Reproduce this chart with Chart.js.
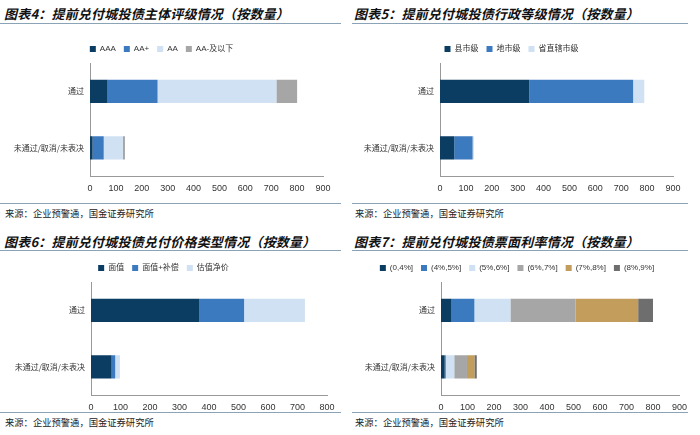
<!DOCTYPE html>
<html><head><meta charset="utf-8">
<script src="https://cdn.jsdelivr.net/npm/chart.js@4.4.0/dist/chart.umd.min.js"></script>
<style>
html,body{margin:0;padding:0;background:#fff;width:700px;height:435px;overflow:hidden;position:relative;font-family:"Noto Sans CJK SC",sans-serif;}
.title{position:absolute;font-family:"Noto Sans CJK SC";font-weight:bold;font-style:italic;font-size:13px;color:#111;white-space:nowrap;letter-spacing:0.2px;}
.hline{position:absolute;height:1px;background:#8ba3b6;}
.src{position:absolute;font-size:9.3px;color:#222;white-space:nowrap;font-family:"Noto Sans CJK SC";}
canvas{position:absolute;}
</style></head><body>
<div class="title" style="left:4px;top:4px">图表4：提前兑付城投债主体评级情况（按数量）</div>
<div class="hline" style="left:0;top:23px;width:341px"></div>
<div class="hline" style="left:0;top:203px;width:341px"></div>
<div class="src" style="left:5px;top:206px">来源：企业预警通，国金证券研究所</div>

<div class="title" style="left:354px;top:4px">图表5：提前兑付城投债行政等级情况（按数量）</div>
<div class="hline" style="left:352px;top:23px;width:336px"></div>
<div class="hline" style="left:352px;top:203px;width:336px"></div>
<div class="src" style="left:355px;top:206px">来源：企业预警通，国金证券研究所</div>

<div class="title" style="left:4px;top:232px">图表6：提前兑付城投债兑付价格类型情况（按数量）</div>
<div class="hline" style="left:0;top:250px;width:341px"></div>
<div class="hline" style="left:0;top:412px;width:341px"></div>
<div class="src" style="left:5px;top:415px">来源：企业预警通，国金证券研究所</div>

<div class="title" style="left:354px;top:232px">图表7：提前兑付城投债票面利率情况（按数量）</div>
<div class="hline" style="left:352px;top:250px;width:336px"></div>
<div class="hline" style="left:352px;top:412px;width:336px"></div>
<div class="src" style="left:355px;top:415px">来源：企业预警通，国金证券研究所</div>

<canvas id="c1" width="340" height="160" style="left:0;top:37px"></canvas>
<canvas id="c2" width="340" height="160" style="left:350px;top:37px"></canvas>
<canvas id="c3" width="340" height="160" style="left:0;top:256px"></canvas>
<canvas id="c4" width="340" height="160" style="left:350px;top:256px"></canvas>
<script>
const categories = ["通过", "未通过/取消/未表决"];

// 图表4 主体评级
const ratingLabels = ["AAA", "AA+", "AA", "AA-及以下"];
const ratingAAA = [68, 10];
const ratingAAplus = [193, 43];
const ratingAA = [459, 74];
const ratingAAminus = [80, 8];

// 图表5 行政等级
const adminLabels = ["县市级", "地市级", "省直辖市级"];
const adminCounty = [345, 55];
const adminCity = [401, 71];
const adminProvince = [43, 5];

// 图表6 兑付价格类型
const priceLabels = ["面值", "面值+补偿", "估值净价"];
const priceFace = [368, 70];
const priceFacePlus = [151, 12];
const priceValuation = [206, 16];

// 图表7 票面利率
const couponLabels = ["(0,4%]", "(4%,5%]", "(5%,6%]", "(6%,7%]", "(7%,8%]", "(8%,9%]"];
const coupon0to4 = [40, 14];
const coupon4to5 = [86, 4];
const coupon5to6 = [136, 32];
const coupon6to7 = [246, 48];
const coupon7to8 = [236, 28];
const coupon8to9 = [56, 9];

const NAVY = "#0b3d63", BLUE = "#3c7ac0", LIGHT = "#cfe1f2", GRAY = "#a6a6a6", GOLD = "#c39d5c", DGRAY = "#6e6e6e";

function makeChart(id, labels, series, colors, xmax, leftW, rightPad) {
  const datasets = series.map((d, i) => ({
    label: labels[i], data: d, backgroundColor: colors[i], borderWidth: 0,
    barPercentage: 0.41, categoryPercentage: 1
  }));
  new Chart(document.getElementById(id), {
    type: "bar",
    data: { labels: categories, datasets },
    options: {
      indexAxis: "y", responsive: false, animation: false,
      layout: { padding: { top: 0, right: rightPad, bottom: 0, left: 0 } },
      plugins: {
        legend: {
          position: "top",
          labels: { boxWidth: 6, boxHeight: 6, padding: 8, color: "#333",
                    font: { size: 8, family: "'Liberation Sans','Noto Sans CJK SC'" } }
        },
        tooltip: { enabled: false }
      },
      scales: {
        x: {
          stacked: true, min: 0, max: xmax,
          ticks: { stepSize: 100, color: "#333", padding: 3, font: { size: 9, family: "'Liberation Sans'" } },
          grid: { display: false, drawOnChartArea: false, drawTicks: true, tickLength: 4, color: "#999" },
          border: { display: true, color: "#999" }
        },
        y: {
          stacked: true,
          afterFit: s => { s.width = leftW; },
          ticks: { color: "#333", padding: 3, font: { size: 8, family: "'Noto Sans CJK SC'" } },
          grid: { display: false, drawOnChartArea: false, drawTicks: true, tickLength: 3, color: "#999" },
          border: { display: true, color: "#999" }
        }
      }
    }
  });
}

makeChart("c1", ratingLabels, [ratingAAA, ratingAAplus, ratingAA, ratingAAminus], [NAVY, BLUE, LIGHT, GRAY], 900, 90, 17);
makeChart("c2", adminLabels, [adminCounty, adminCity, adminProvince], [NAVY, BLUE, LIGHT], 900, 90, 17);
makeChart("c3", priceLabels, [priceFace, priceFacePlus, priceValuation], [NAVY, BLUE, LIGHT], 800, 91, 13);
makeChart("c4", couponLabels, [coupon0to4, coupon4to5, coupon5to6, coupon6to7, coupon7to8, coupon8to9], [NAVY, BLUE, LIGHT, GRAY, GOLD, DGRAY], 900, 91, 6);
</script>
</body></html>
